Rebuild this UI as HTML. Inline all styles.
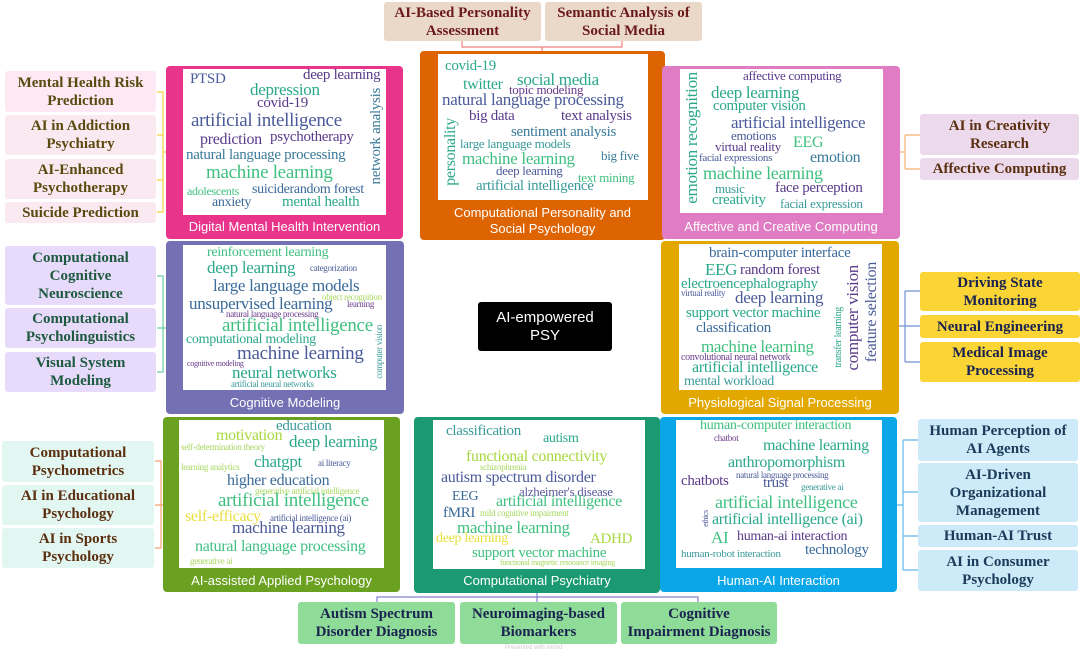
<!DOCTYPE html>
<html><head><meta charset="utf-8"><style>
body{margin:0;width:1080px;height:652px;background:#fff;position:relative;overflow:hidden;font-family:"Liberation Serif",serif}
.b{position:absolute;box-sizing:border-box;border-radius:3px;display:flex;align-items:center;justify-content:center;text-align:center;font-weight:bold;font-size:15px;line-height:18px}
.p{position:absolute;border-radius:4px}
.in{position:absolute;background:#fff}
.cap{position:absolute;color:#fff;font-family:"Liberation Sans",sans-serif;font-size:13px;text-align:center;line-height:16px}
i{position:absolute;font-style:normal;white-space:nowrap;line-height:1;letter-spacing:-0.3px}
.v{writing-mode:vertical-rl;transform:rotate(180deg)}
</style></head><body>
<svg width="1080" height="652" style="position:absolute;left:0;top:0" fill="none" stroke-width="1.2">
<path d="M462 41V47H622V41M542 47V51" stroke="#f08080"/>
<path d="M157 92H163V212H157M157 135H163M157 180H163M163 152H166" stroke="#f5d040"/>
<path d="M157 276H163V372H157M157 328H166" stroke="#6cd0a0"/>
<path d="M155 461H161V548H155M155 505H163" stroke="#f5a070"/>
<path d="M900 152H905M905 135V169M905 135H920M905 169H920" stroke="#f5b070"/>
<path d="M899 326H905M905 291V362M905 291H920M905 326H920M905 362H920" stroke="#7090d0"/>
<path d="M897 505H903M903 440V570M903 440H918M903 492H918M903 536H918M903 570H918" stroke="#60b8e8"/>
<path d="M377 602V597H698V602M537 592V602" stroke="#8080d0"/>
</svg>

<!-- top boxes -->
<div class="b" style="left:384px;top:2px;width:157px;height:39px;background:#ead8c8;color:#6b1a1a">AI-Based Personality<br>Assessment</div>
<div class="b" style="left:545px;top:2px;width:157px;height:39px;background:#ead8c8;color:#6b1a1a">Semantic Analysis of<br>Social Media</div>

<!-- left pink -->
<div class="b" style="left:5px;top:71px;width:151px;height:41px;background:#fde9f3;color:#5b4a10">Mental Health Risk<br>Prediction</div>
<div class="b" style="left:5px;top:115px;width:151px;height:40px;background:#fbe9f1;color:#5b4a10">AI in Addiction<br>Psychiatry</div>
<div class="b" style="left:5px;top:159px;width:151px;height:40px;background:#fbe9f1;color:#5b4a10">AI-Enhanced<br>Psychotherapy</div>
<div class="b" style="left:5px;top:202px;width:151px;height:21px;background:#fbe9f1;color:#5b4a10">Suicide Prediction</div>
<!-- left purple -->
<div class="b" style="left:5px;top:246px;width:151px;height:59px;background:#e8dafa;color:#1d5a3f">Computational<br>Cognitive<br>Neuroscience</div>
<div class="b" style="left:5px;top:308px;width:151px;height:40px;background:#e8dafa;color:#1d5a3f">Computational<br>Psycholinguistics</div>
<div class="b" style="left:5px;top:352px;width:151px;height:40px;background:#e8dafa;color:#1d5a3f">Visual System<br>Modeling</div>
<!-- left teal -->
<div class="b" style="left:2px;top:441px;width:152px;height:41px;background:#e3f7f2;color:#5a3010">Computational<br>Psychometrics</div>
<div class="b" style="left:2px;top:485px;width:152px;height:40px;background:#e3f7f2;color:#5a3010">AI in Educational<br>Psychology</div>
<div class="b" style="left:2px;top:528px;width:152px;height:40px;background:#e3f7f2;color:#5a3010">AI in Sports<br>Psychology</div>
<!-- right affective -->
<div class="b" style="left:920px;top:114px;width:159px;height:41px;background:#ecd9ec;color:#5a3010">AI in Creativity<br>Research</div>
<div class="b" style="left:920px;top:158px;width:159px;height:22px;background:#ecd9ec;color:#5a3010">Affective Computing</div>
<!-- right yellow -->
<div class="b" style="left:920px;top:272px;width:160px;height:39px;background:#fbd535;color:#1a2350">Driving State<br>Monitoring</div>
<div class="b" style="left:920px;top:315px;width:160px;height:23px;background:#fbd535;color:#1a2350">Neural Engineering</div>
<div class="b" style="left:920px;top:342px;width:160px;height:40px;background:#fbd535;color:#1a2350">Medical Image<br>Processing</div>
<!-- right blue -->
<div class="b" style="left:918px;top:419px;width:160px;height:42px;background:#cdeaf8;color:#1a3a5a">Human Perception of<br>AI Agents</div>
<div class="b" style="left:918px;top:463px;width:160px;height:59px;background:#cdeaf8;color:#1a3a5a">AI-Driven<br>Organizational<br>Management</div>
<div class="b" style="left:918px;top:525px;width:160px;height:22px;background:#cdeaf8;color:#1a3a5a">Human-AI Trust</div>
<div class="b" style="left:918px;top:550px;width:160px;height:41px;background:#cdeaf8;color:#1a3a5a">AI in Consumer<br>Psychology</div>
<!-- bottom -->
<div class="b" style="left:298px;top:602px;width:157px;height:42px;background:#8fdc98;color:#1a2350">Autism Spectrum<br>Disorder Diagnosis</div>
<div class="b" style="left:460px;top:602px;width:157px;height:42px;background:#8fdc98;color:#1a2350">Neuroimaging-based<br>Biomarkers</div>
<div class="b" style="left:621px;top:602px;width:156px;height:42px;background:#8fdc98;color:#1a2350">Cognitive<br>Impairment Diagnosis</div>

<!-- panels -->
<div class="p" style="left:166px;top:66px;width:237px;height:173px;background:#e8358b"></div>
<div class="in" style="left:183px;top:69px;width:203px;height:146px"></div>
<div class="cap" style="left:166px;top:219px;width:237px">Digital Mental Health Intervention</div>

<div class="p" style="left:420px;top:51px;width:245px;height:189px;background:#dd6400"></div>
<div class="in" style="left:438px;top:54px;width:210px;height:146px"></div>
<div class="cap" style="left:420px;top:205px;width:245px">Computational Personality and<br>Social Psychology</div>

<div class="p" style="left:662px;top:66px;width:238px;height:173px;background:#e07cc3"></div>
<div class="in" style="left:680px;top:69px;width:203px;height:144px"></div>
<div class="cap" style="left:662px;top:219px;width:238px">Affective and Creative Computing</div>

<div class="p" style="left:166px;top:241px;width:238px;height:173px;background:#7470b4"></div>
<div class="in" style="left:183px;top:245px;width:203px;height:145px"></div>
<div class="cap" style="left:166px;top:395px;width:238px">Cognitive Modeling</div>

<div class="p" style="left:661px;top:241px;width:238px;height:173px;background:#e3a800"></div>
<div class="in" style="left:679px;top:244px;width:203px;height:146px"></div>
<div class="cap" style="left:661px;top:395px;width:238px">Physiological Signal Processing</div>

<div class="p" style="left:163px;top:417px;width:237px;height:175px;background:#6aa121"></div>
<div class="in" style="left:179px;top:420px;width:205px;height:148px"></div>
<div class="cap" style="left:163px;top:573px;width:237px">AI-assisted Applied Psychology</div>

<div class="p" style="left:414px;top:417px;width:246px;height:176px;background:#1b9a72"></div>
<div class="in" style="left:433px;top:420px;width:212px;height:149px"></div>
<div class="cap" style="left:414px;top:573px;width:246px">Computational Psychiatry</div>

<div class="p" style="left:660px;top:417px;width:237px;height:175px;background:#0aa6e8"></div>
<div class="in" style="left:676px;top:420px;width:206px;height:148px"></div>
<div class="cap" style="left:660px;top:573px;width:237px">Human-AI Interaction</div>

<div style="position:absolute;left:478px;top:302px;width:134px;height:49px;background:#000;border-radius:3px;color:#fff;font-family:'Liberation Sans',sans-serif;font-size:15px;line-height:18px;display:flex;align-items:center;justify-content:center;text-align:center">AI-empowered<br>PSY</div>

<!-- Digital mental health words -->
<i style="left:190px;top:72px;font-size:15px;color:#4a5a9a">PTSD</i>
<i style="left:303px;top:68px;font-size:15px;color:#5a3a8a">deep learning</i>
<i style="left:250px;top:81px;font-size:17px;color:#2aa88a">depression</i>
<i style="left:257px;top:96px;font-size:15px;color:#5a3a8a">covid-19</i>
<i style="left:191px;top:111px;font-size:19px;color:#4a5a9a">artificial intelligence</i>
<i style="left:200px;top:132px;font-size:16px;color:#5a3a8a">prediction</i>
<i style="left:270px;top:130px;font-size:15px;color:#5a3a8a">psychotherapy</i>
<i style="left:186px;top:148px;font-size:15px;color:#3a7a9a">natural language processing</i>
<i style="left:206px;top:163px;font-size:19px;color:#40c080">machine learning</i>
<i style="left:187px;top:185px;font-size:12px;color:#40c080">adolescents</i>
<i style="left:252px;top:183px;font-size:14px;color:#3a6a9a">suiciderandom forest</i>
<i style="left:212px;top:196px;font-size:14px;color:#3a6a9a">anxiety</i>
<i style="left:282px;top:195px;font-size:15px;color:#2aa88a">mental health</i>
<i class="v" style="left:369px;top:88px;font-size:15px;color:#3a7a9a">network analysis</i>

<!-- personality -->
<i style="left:445px;top:59px;font-size:15px;color:#2aa88a">covid-19</i>
<i style="left:517px;top:71px;font-size:17px;color:#2aa88a">social media</i>
<i style="left:463px;top:77px;font-size:16px;color:#2aa88a">twitter</i>
<i style="left:509px;top:83px;font-size:13px;color:#6a3a8a">topic modeling</i>
<i style="left:442px;top:91px;font-size:17px;color:#4a5a9a">natural language processing</i>
<i style="left:469px;top:109px;font-size:15px;color:#5a3a8a">big data</i>
<i style="left:561px;top:109px;font-size:15px;color:#5a3a8a">text analysis</i>
<i class="v" style="left:443px;top:118px;font-size:16px;color:#2aa88a">personality</i>
<i style="left:511px;top:125px;font-size:15px;color:#3a7a9a">sentiment analysis</i>
<i style="left:460px;top:137px;font-size:13px;color:#3a9a9a">large language models</i>
<i style="left:462px;top:150px;font-size:17px;color:#40c080">machine learning</i>
<i style="left:601px;top:149px;font-size:13px;color:#3a7a9a">big five</i>
<i style="left:496px;top:164px;font-size:13px;color:#4a5a9a">deep learning</i>
<i style="left:578px;top:171px;font-size:13px;color:#40c080">text mining</i>
<i style="left:476px;top:179px;font-size:15px;color:#3a9a9a">artificial intelligence</i>

<!-- affective -->
<i style="left:743px;top:69px;font-size:13px;color:#5a3a8a">affective computing</i>
<i style="left:711px;top:84px;font-size:17px;color:#2aa88a">deep learning</i>
<i style="left:713px;top:99px;font-size:15px;color:#2aa88a">computer vision</i>
<i style="left:731px;top:114px;font-size:17px;color:#4a5a9a">artificial intelligence</i>
<i style="left:731px;top:129px;font-size:13px;color:#4a5a9a">emotions</i>
<i style="left:715px;top:140px;font-size:13px;color:#5a3a8a">virtual reality</i>
<i style="left:793px;top:135px;font-size:16px;color:#40c080">EEG</i>
<i style="left:699px;top:153px;font-size:11px;color:#4a5a9a">facial expressions</i>
<i style="left:810px;top:150px;font-size:16px;color:#3a7a9a">emotion</i>
<i style="left:703px;top:164px;font-size:18px;color:#40c080">machine learning</i>
<i style="left:715px;top:182px;font-size:13px;color:#3a9a9a">music</i>
<i style="left:775px;top:181px;font-size:15px;color:#5a3a8a">face perception</i>
<i style="left:712px;top:193px;font-size:15px;color:#2aa88a">creativity</i>
<i style="left:780px;top:197px;font-size:13px;color:#3a9a9a">facial expression</i>
<i class="v" style="left:683px;top:72px;font-size:17px;color:#2aa88a">emotion recognition</i>

<!-- cognitive -->
<i style="left:207px;top:246px;font-size:14px;color:#40c080">reinforcement learning</i>
<i style="left:207px;top:259px;font-size:17px;color:#2aa88a">deep learning</i>
<i style="left:310px;top:264px;font-size:9px;color:#4a5a9a">categorization</i>
<i style="left:213px;top:277px;font-size:17px;color:#3a6a9a">large language models</i>
<i style="left:322px;top:293px;font-size:9px;color:#a8d860">object recognition</i>
<i style="left:189px;top:295px;font-size:17px;color:#3a6a9a">unsupervised learning</i>
<i style="left:347px;top:300px;font-size:9px;color:#6a3a8a">learning</i>
<i style="left:226px;top:310px;font-size:9px;color:#6a3a8a">natural language processing</i>
<i style="left:222px;top:316px;font-size:19px;color:#40c080">artificial intelligence</i>
<i style="left:186px;top:333px;font-size:14px;color:#2aa88a">computational modeling</i>
<i style="left:237px;top:344px;font-size:19px;color:#4a5a9a">machine learning</i>
<i style="left:187px;top:360px;font-size:8px;color:#6a3a8a">cognitive modeling</i>
<i style="left:232px;top:364px;font-size:17px;color:#2aa88a">neural networks</i>
<i style="left:231px;top:380px;font-size:9px;color:#3a9a9a">artificial neural networks</i>
<i class="v" style="left:375px;top:325px;font-size:9px;color:#3a9a9a">computer vision</i>

<!-- physio -->
<i style="left:709px;top:246px;font-size:15px;color:#3a6a9a">brain-computer interface</i>
<i style="left:705px;top:261px;font-size:17px;color:#2aa88a">EEG</i>
<i style="left:740px;top:263px;font-size:15px;color:#5a3a8a">random forest</i>
<i style="left:681px;top:277px;font-size:15px;color:#2aa88a">electroencephalography</i>
<i style="left:681px;top:289px;font-size:9px;color:#4a5a9a">virtual reality</i>
<i style="left:735px;top:289px;font-size:17px;color:#4a5a9a">deep learning</i>
<i style="left:686px;top:306px;font-size:15px;color:#2aa88a">support vector machine</i>
<i style="left:696px;top:321px;font-size:15px;color:#3a6a9a">classification</i>
<i style="left:701px;top:338px;font-size:17px;color:#40c080">machine learning</i>
<i style="left:681px;top:353px;font-size:10px;color:#6a3a8a">convolutional neural network</i>
<i style="left:692px;top:360px;font-size:16px;color:#2aa88a">artificial intelligence</i>
<i style="left:684px;top:375px;font-size:14px;color:#3a9a9a">mental workload</i>
<i class="v" style="left:834px;top:307px;font-size:10px;color:#2aa88a">transfer learning</i>
<i class="v" style="left:844px;top:265px;font-size:17px;color:#5a3a8a">computer vision</i>
<i class="v" style="left:864px;top:262px;font-size:16px;color:#4a5a9a">feature selection</i>

<!-- applied -->
<i style="left:276px;top:419px;font-size:15px;color:#3a9a9a">education</i>
<i style="left:216px;top:428px;font-size:16px;color:#a8d840">motivation</i>
<i style="left:181px;top:443px;font-size:9px;color:#a8d860">self-determination theory</i>
<i style="left:289px;top:433px;font-size:17px;color:#2aa88a">deep learning</i>
<i style="left:181px;top:463px;font-size:9px;color:#a8d860">learning analytics</i>
<i style="left:254px;top:453px;font-size:17px;color:#2aa88a">chatgpt</i>
<i style="left:318px;top:459px;font-size:9px;color:#4a5a9a">ai literacy</i>
<i style="left:227px;top:473px;font-size:16px;color:#3a6a9a">higher education</i>
<i style="left:255px;top:487px;font-size:9px;color:#a8d860">generative artificial intelligence</i>
<i style="left:218px;top:491px;font-size:19px;color:#40c080">artificial intelligence</i>
<i style="left:185px;top:509px;font-size:16px;color:#e8e040">self-efficacy</i>
<i style="left:270px;top:514px;font-size:9px;color:#4a5a9a">artificial intelligence (ai)</i>
<i style="left:232px;top:519px;font-size:17px;color:#4a5a9a">machine learning</i>
<i style="left:195px;top:539px;font-size:16px;color:#40c080">natural language processing</i>
<i style="left:190px;top:557px;font-size:9px;color:#a8d860">generative ai</i>

<!-- psychiatry -->
<i style="left:446px;top:424px;font-size:15px;color:#3a9a9a">classification</i>
<i style="left:543px;top:432px;font-size:14px;color:#2aa88a">autism</i>
<i style="left:466px;top:449px;font-size:16px;color:#a8d840">functional connectivity</i>
<i style="left:480px;top:463px;font-size:9px;color:#a8d860">schizophrenia</i>
<i style="left:441px;top:470px;font-size:16px;color:#4a5a9a">autism spectrum disorder</i>
<i style="left:519px;top:485px;font-size:13px;color:#5a5a9a">alzheimer's disease</i>
<i style="left:452px;top:490px;font-size:14px;color:#3a6a9a">EEG</i>
<i style="left:496px;top:494px;font-size:16px;color:#40c080">artificial intelligence</i>
<i style="left:443px;top:506px;font-size:15px;color:#3a6a9a">fMRI</i>
<i style="left:480px;top:509px;font-size:9px;color:#a8d860">mild cognitive impairment</i>
<i style="left:457px;top:519px;font-size:17px;color:#40c080">machine learning</i>
<i style="left:436px;top:532px;font-size:14px;color:#e8e040">deep learning</i>
<i style="left:590px;top:532px;font-size:15px;color:#a8d840">ADHD</i>
<i style="left:472px;top:546px;font-size:15px;color:#40c080">support vector machine</i>
<i style="left:500px;top:559px;font-size:8px;color:#a8d860">functional magnetic resonance imaging</i>

<!-- human-ai -->
<i style="left:700px;top:419px;font-size:14px;color:#40c080">human-computer interaction</i>
<i style="left:714px;top:434px;font-size:9px;color:#6a3a8a">chatbot</i>
<i style="left:763px;top:438px;font-size:16px;color:#2aa88a">machine learning</i>
<i style="left:728px;top:455px;font-size:16px;color:#2aa88a">anthropomorphism</i>
<i style="left:736px;top:471px;font-size:9px;color:#4a5a9a">natural language processing</i>
<i style="left:681px;top:474px;font-size:15px;color:#5a3a8a">chatbots</i>
<i style="left:763px;top:476px;font-size:15px;color:#4a5a9a">trust</i>
<i style="left:801px;top:483px;font-size:9px;color:#3a9a9a">generative ai</i>
<i style="left:715px;top:493px;font-size:18px;color:#40c080">artificial intelligence</i>
<i class="v" style="left:702px;top:510px;font-size:8px;color:#4a5a9a">ethics</i>
<i style="left:712px;top:512px;font-size:16px;color:#2aa88a">artificial intelligence (ai)</i>
<i style="left:711px;top:529px;font-size:17px;color:#40c080">AI</i>
<i style="left:737px;top:530px;font-size:14px;color:#5a3a8a">human-ai interaction</i>
<i style="left:681px;top:549px;font-size:11px;color:#3a9a9a">human-robot interaction</i>
<i style="left:805px;top:543px;font-size:15px;color:#3a6a9a">technology</i>

<div style="position:absolute;left:505px;top:645px;font-family:'Liberation Sans',sans-serif;font-size:6px;color:#ccc">Presented with xmind</div>
</body></html>
